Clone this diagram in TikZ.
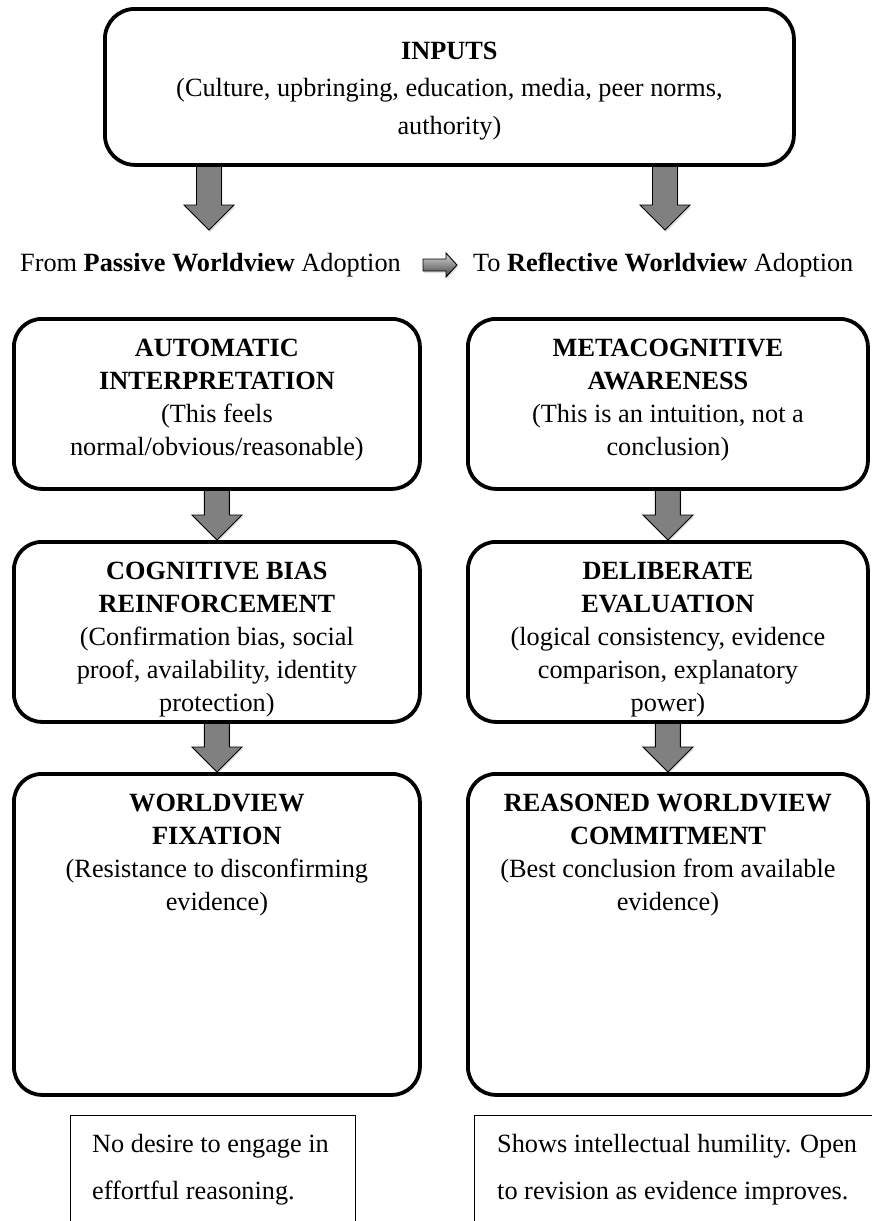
\documentclass[tikz,border=0pt]{standalone}
\usepackage{fontspec}
\setmainfont{Liberation Serif}
\usetikzlibrary{calc,shadows}
\pgfdeclarelayer{background}
\pgfsetlayers{background,main}
\definecolor{arrowgray}{RGB}{128,128,128}

% downward block arrow from a start point (tucked 4pt under the box) to a tip
\newcommand{\flowdown}[2]{%
  \path[flowarrow] let \p1=(#1), \p2=(#2) in
    (\x2-12.5pt,\y1+4pt) -- (\x2-12.5pt,\y2+25pt) -- (\x2-25pt,\y2+25pt) --
    (\x2,\y2) -- (\x2+25pt,\y2+25pt) -- (\x2+12.5pt,\y2+25pt) --
    (\x2+12.5pt,\y1+4pt) -- cycle;}
% small rightward block arrow
\newcommand{\flowright}[2]{%
  \path[sidearrow] let \p1=(#1), \p2=(#2) in
    (\x1,\y2+6pt) -- (\x2-11pt,\y2+6pt) -- (\x2-11pt,\y2+12pt) --
    (\x2,\y2) -- (\x2-11pt,\y2-12pt) -- (\x2-11pt,\y2-6pt) --
    (\x1,\y2-6pt) -- cycle;}

\tikzset{
  stage/.style={draw=black, line width=3.8pt, rounded corners=28pt, fill=white,
    inner sep=0pt, anchor=north west,
    drop shadow={shadow xshift=0.8pt, shadow yshift=-1.6pt, opacity=0.25}},
  stagetext/.style={align=center, inner sep=0pt, anchor=north,
    font=\fontsize{26.3}{33}\selectfont},
  note/.style={draw=black, line width=1.3pt, inner sep=0pt, anchor=north west},
  notetext/.style={align=left, inner sep=0pt, anchor=north west,
    font=\fontsize{26.3}{47}\selectfont},
  flowarrow/.style={fill=arrowgray, draw=black, line width=0.9pt,
    drop shadow={shadow xshift=1pt, shadow yshift=-2pt, opacity=0.25}},
  sidearrow/.style={top color=gray!30, bottom color=black!75, draw=black,
    line width=0.9pt,
    drop shadow={shadow xshift=1pt, shadow yshift=-2pt, opacity=0.25}},
  caption/.style={inner sep=0pt, font=\fontsize{26.3}{30}\selectfont},
}

\begin{document}
\begin{tikzpicture}[x=1pt, y=-1pt]
\useasboundingbox (0,0) rectangle (872,1221);
\clip (0,0) rectangle (872,1221);

% top box
\node[stage, rounded corners=30pt, minimum width=689pt, minimum height=156pt] (inputs) at (103,7) {};
\node[align=center, inner sep=0pt, font=\fontsize{26.3}{37.5}\selectfont] (inputst) at ([yshift=-4pt]inputs.center)
  {\textbf{INPUTS}\\(Culture, upbringing, education, media, peer norms,\\authority)};

% direction line
\node[caption, anchor=east] (passive) at (401,265) {From \textbf{Passive Worldview} Adoption};
\node[caption, anchor=west] (reflective) at (473,265) {To \textbf{Reflective Worldview} Adoption};
\coordinate (sidestart) at ([xshift=22pt]passive.east);
\coordinate (sidetip) at ([xshift=-16pt]reflective.west);
\flowright{sidestart}{sidetip}

% stage boxes
\node[stage, minimum width=406pt, minimum height=170pt] (auto) at (12,317) {};
\node[stage, minimum width=400pt, minimum height=170pt] (meta) at (466,317) {};
\node[stage, minimum width=406pt, minimum height=180pt] (bias) at (12,540) {};
\node[stage, minimum width=400pt, minimum height=180pt] (deli) at (466,540) {};
\node[stage, minimum width=406pt, minimum height=321pt] (fix) at (12,772) {};
\node[stage, minimum width=400pt, minimum height=321pt] (reas) at (466,772) {};

\node[stagetext] (autot) at ([yshift=-22pt]auto.north)
  {\textbf{AUTOMATIC}\\\textbf{INTERPRETATION}\\(This feels\\normal/obvious/reasonable)};
\node[stagetext] (metat) at ([yshift=-22pt]meta.north)
  {\textbf{METACOGNITIVE}\\\textbf{AWARENESS}\\(This is an intuition, not a\\conclusion)};
\node[stagetext] (biast) at ([yshift=-22pt]bias.north)
  {\textbf{COGNITIVE BIAS}\\\textbf{REINFORCEMENT}\\(Confirmation bias, social\\proof, availability, identity\\protection)};
\node[stagetext] (delit) at ([yshift=-22pt]deli.north)
  {\textbf{DELIBERATE}\\\textbf{EVALUATION}\\(logical consistency, evidence\\comparison, explanatory\\power)};
\node[stagetext] (fixt) at ([yshift=-22pt]fix.north)
  {\textbf{WORLDVIEW}\\\textbf{FIXATION}\\(Resistance to disconfirming\\evidence)};
\node[stagetext] (reast) at ([yshift=-22pt]reas.north)
  {\textbf{REASONED WORLDVIEW}\\\textbf{COMMITMENT}\\(Best conclusion from available\\evidence)};

% outcome notes
\node[note, minimum width=285pt, minimum height=200pt] (lazy) at (70,1115) {};
\node[note, minimum width=420pt, minimum height=200pt] (humble) at (474,1115) {};
\node[notetext] (lazyt) at (92,1134) {No desire to engage in\\effortful reasoning.};
\node[notetext] (humblet) at (497,1134) {Shows intellectual humility. Open\\to revision as evidence improves.};

% flow arrows
\coordinate (tipL) at (209,230);
\coordinate (tipR) at (665,230);
\coordinate (srcL) at (inputs.south -| tipL);
\coordinate (srcR) at (inputs.south -| tipR);
\begin{pgfonlayer}{background}
  \flowdown{srcL}{tipL}
  \flowdown{srcR}{tipR}
  \flowdown{auto.south}{bias.north}
  \flowdown{meta.south}{deli.north}
  \flowdown{bias.south}{fix.north}
  \flowdown{deli.south}{reas.north}
\end{pgfonlayer}
\end{tikzpicture}
\end{document}
